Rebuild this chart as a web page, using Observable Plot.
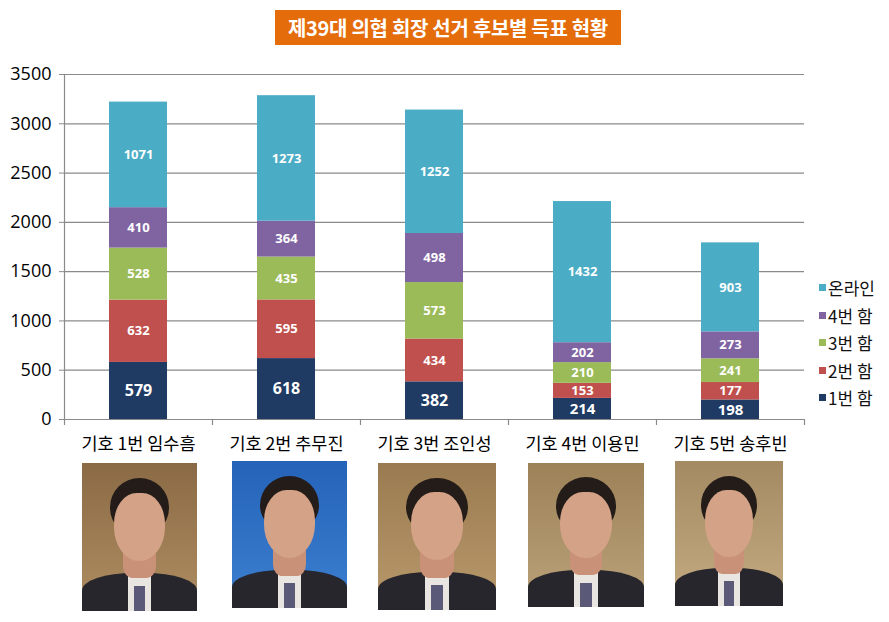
<!DOCTYPE html>
<html><head><meta charset="utf-8">
<script src="https://cdn.jsdelivr.net/npm/d3@7"></script>
<script src="https://cdn.jsdelivr.net/npm/@observablehq/plot@0.6"></script>
<style>
body{margin:0;background:#fff;font-family:"Noto Sans CJK KR","Noto Sans",sans-serif;}
#wrap{position:relative;width:889px;height:622px;overflow:hidden;}
#title{height:55px;position:relative;}
#title span{position:absolute;left:275px;top:10px;width:346px;height:35px;background:#E46C0A;color:#fff;font-size:20px;font-weight:700;line-height:35px;text-align:center;white-space:nowrap;letter-spacing:-0.3px;}
#legend{position:absolute;left:819px;top:274px;font-size:17px;color:#111;}
#legend div{height:27.5px;line-height:27px;display:flex;align-items:center;white-space:nowrap;}
#legend i{display:inline-block;width:7px;height:7px;margin-right:2px;}
.photo{position:absolute;overflow:hidden;}
.photo div{position:absolute;}
</style>
</head><body>
<div id="wrap">
<div id="title"><span>제39대 의협 회장 선거 후보별 득표 현황</span></div>
<div id="chart"></div>
<div id="legend"></div>
<div id="photos"></div>
</div>
<script>
const candidates = ["기호 1번 임수흠","기호 2번 추무진","기호 3번 조인성","기호 4번 이용민","기호 5번 송후빈"];
const seriesNames = ["1번 함","2번 함","3번 함","4번 함","온라인"];
const box1 = [579,618,382,214,198];
const box2 = [632,595,434,153,177];
const box3 = [528,435,573,210,241];
const box4 = [410,364,498,202,273];
const online = [1071,1273,1252,1432,903];
const yTicks = [0,500,1000,1500,2000,2500,3000,3500];
const legendOrder = ["온라인","4번 함","3번 함","2번 함","1번 함"];

const palette = ["#1F3B64","#C0504D","#9BBB59","#8064A2","#4BACC6"];
const seriesValues = [box1, box2, box3, box4, online];
const rows = [];
seriesNames.forEach((s, si) => candidates.forEach((c, ci) => rows.push({candidate: c, series: s, value: seriesValues[si][ci]})));

const W = 889, H = 404, ML = 64, MR = 85;
const step = (W - ML - MR) / candidates.length;
const grid = "#8a8a8a";
const font = '"Noto Sans CJK KR","Noto Sans",sans-serif';

const chart = Plot.plot({
  width: W, height: H,
  marginLeft: ML, marginRight: MR, marginTop: 19, marginBottom: 40,
  x: {domain: candidates, paddingInner: 0.608, paddingOuter: 0.304, label: null},
  y: {domain: [0, 3500], label: null},
  color: {domain: seriesNames, range: palette},
  style: {fontFamily: font, background: "transparent", color: "#000"},
  marks: [
    Plot.ruleY(yTicks.slice(1), {stroke: grid, strokeWidth: 1.2}),
    Plot.barY(rows, Plot.stackY({x: "candidate", y: "value", fill: "series", order: seriesNames})),
    Plot.text(rows, Plot.stackY({
      x: "candidate", y: "value", z: "series", order: seriesNames,
      text: d => String(d.value), fill: "#fff", fontWeight: 700,
      fontFamily: '"Open Sans","Noto Sans",sans-serif',
      fontSize: d => d.series === "1번 함" ? (d.value > 300 ? 16 : 15) : 13
    })),
    Plot.ruleY([0], {stroke: grid, strokeWidth: 1.2}),
    Plot.ruleX([candidates[0]], {dx: -step / 2, y1: 0, y2: 3500, stroke: grid, strokeWidth: 1.2}),
    Plot.ruleX(candidates, {dx: -step / 2, y1: 0, y2: 0, insetBottom: -6, stroke: grid, strokeWidth: 1.2}),
    Plot.ruleX([candidates[candidates.length - 1]], {dx: step / 2, y1: 0, y2: 0, insetBottom: -6, stroke: grid, strokeWidth: 1.2}),
    Plot.axisY({ticks: yTicks, tickFormat: d3.format("d"), tickSize: 5, tickPadding: 8, fontSize: 18, stroke: grid, fill: "#000", fontFamily: '"Open Sans","Noto Sans",sans-serif'}),
    Plot.axisX({tickSize: 0, tickPadding: 18, fontSize: 17.5, fill: "#000"})
  ]
});
document.getElementById("chart").appendChild(chart);

const legend = document.getElementById("legend");
legendOrder.forEach(s => {
  const d = document.createElement("div");
  const sw = document.createElement("i");
  sw.style.background = palette[seriesNames.indexOf(s)];
  d.appendChild(sw);
  d.appendChild(document.createTextNode(s));
  legend.appendChild(d);
});

// placeholder portraits (photos cannot be embedded offline)
const photoBoxes = [
  {l:82,t:463,w:115,h:148,bg:"linear-gradient(#8a6a45,#b08e62)"},
  {l:232,t:461,w:115,h:147,bg:"linear-gradient(#2563b8,#3c7fd0)"},
  {l:378,t:463,w:118,h:147,bg:"linear-gradient(#9a7a50,#b99a6c)"},
  {l:528,t:463,w:116,h:144,bg:"linear-gradient(#9d8258,#bba27a)"},
  {l:675,t:461,w:108,h:145,bg:"linear-gradient(#a38a62,#c4ab82)"}
];
const photos = document.getElementById("photos");
photoBoxes.forEach(p => {
  const el = document.createElement("div");
  el.className = "photo";
  Object.assign(el.style, {left: p.l + "px", top: p.t + "px", width: p.w + "px", height: p.h + "px", background: p.bg});
  el.innerHTML =
    '<div style="left:0;bottom:0;width:100%;height:26%;background:#26262c;border-radius:45% 45% 0 0"></div>' +
    '<div style="left:40%;bottom:0;width:20%;height:24%;background:#e9e6e2"></div>' +
    '<div style="left:45%;bottom:0;width:10%;height:17%;background:#5a5a78"></div>' +
    '<div style="left:36%;top:52%;width:28%;height:26%;background:#c99278;border-radius:30%"></div>' +
    '<div style="left:24%;top:10%;width:52%;height:40%;background:#231c18;border-radius:50%"></div>' +
    '<div style="left:28%;top:20%;width:44%;height:46%;background:#d4a287;border-radius:45% 45% 50% 50%"></div>';
  photos.appendChild(el);
});
</script>
</body></html>
